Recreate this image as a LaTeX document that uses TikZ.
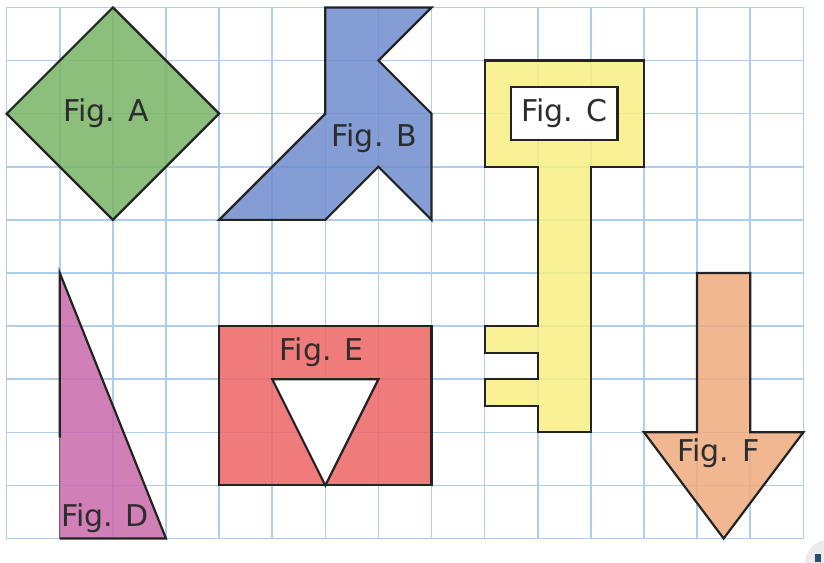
\documentclass[tikz,border=0pt]{standalone}
\usepackage{fontspec}
\setmainfont{DejaVu Sans}
\definecolor{gridc}{RGB}{175,205,238}
\definecolor{figA}{RGB}{120,180,100}
\definecolor{figB}{RGB}{110,140,205}
\definecolor{figC}{RGB}{247,238,130}
\definecolor{figD}{RGB}{200,105,170}
\definecolor{figE}{RGB}{236,100,100}
\definecolor{figF}{RGB}{238,170,125}
\definecolor{edge}{RGB}{35,35,35}
\definecolor{txt}{RGB}{45,45,45}
\definecolor{iconc}{RGB}{40,80,110}
\tikzset{
  figshape/.style={draw=edge, line width=2.2pt, line join=miter, fill opacity=0.85},
  hole/.style={draw=edge, line width=2.2pt, fill=white},
  lbl/.style={text=txt, font=\fontsize{30}{32}\selectfont, inner sep=0pt}
}
\begin{document}
\begin{tikzpicture}[x=53.1pt, y=53.1pt]
\useasboundingbox (-0.126,-0.45) rectangle (15.39,10.14);
% corner icon
\begin{scope}
\clip (-0.126,-0.45) rectangle (15.39,10.14);
\fill[black!8] (15.5,-0.5) circle (0.48);
\fill[iconc] (15.22,-0.30) rectangle (15.33,-0.45);
\end{scope}
% grid
\draw[gridc, line width=1.5pt, xstep=53.1pt, ystep=53.1pt] (0,0) grid (15,10);
% Fig A
\filldraw[figshape, fill=figA] (2,10) -- (4,8) -- (2,6) -- (0,8) -- cycle;
\node[lbl] (la) at (1.87,8) {Fig. A};
% Fig B
\filldraw[figshape, fill=figB] (6,10) -- (8,10) -- (7,9) -- (8,8) -- (8,6) -- (7,7) -- (6,6) -- (4,6) -- (6,8) -- cycle;
\node[lbl] (lb) at (6.92,7.53) {Fig. B};
% Fig C
\filldraw[figshape, fill=figC] (9,9) -- (12,9) -- (12,7) -- (11,7) -- (11,2) -- (10,2) -- (10,2.5) -- (9,2.5) -- (9,3) -- (10,3) -- (10,3.5) -- (9,3.5) -- (9,4) -- (10,4) -- (10,7) -- (9,7) -- cycle;
\filldraw[hole] (9.5,7.5) rectangle (11.5,8.5);
\node[lbl] (lc) at (10.5,8) {Fig. C};
% Fig D
\fill[figD, fill opacity=0.85] (1,5) -- (3,0) -- (1,0) -- cycle;
\draw[edge!70, line width=1pt] (1,0) -- (1,1.9);
\draw[edge, line width=2.2pt, line join=miter] (1,1.9) -- (1,5) -- (3,0) -- (1,0);
\node[lbl] (ld) at (1.85,0.38) {Fig. D};
% Fig E
\filldraw[figshape, fill=figE] (4,1) rectangle (8,4);
\filldraw[hole] (5,3) -- (7,3) -- (6,1) -- cycle;
\node[lbl] (le) at (5.93,3.5) {Fig. E};
% Fig F
\filldraw[figshape, fill=figF] (13,5) -- (14,5) -- (14,2) -- (15,2) -- (13.5,0) -- (12,2) -- (13,2) -- cycle;
\node[lbl] (lf) at (13.4,1.6) {Fig. F};
\end{tikzpicture}
\end{document}
